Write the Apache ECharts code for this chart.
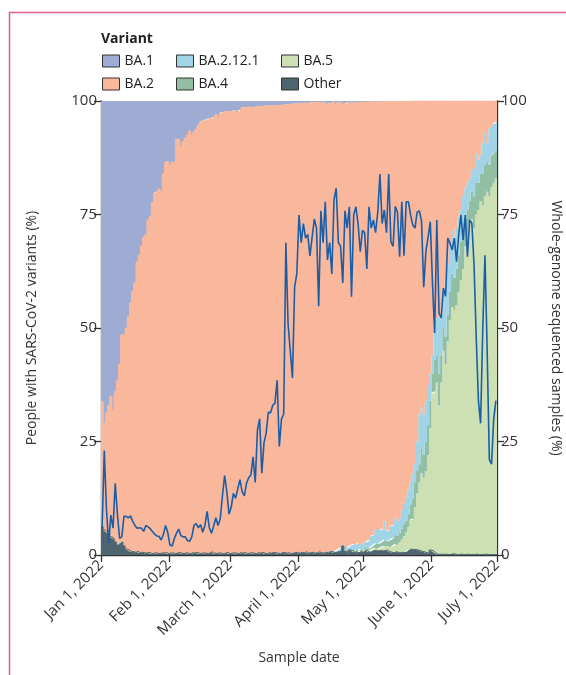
<!DOCTYPE html>
<html><head><meta charset="utf-8">
<script src="https://cdn.jsdelivr.net/npm/echarts@6/dist/echarts.min.js"></script>
<style>html,body{margin:0;padding:0;background:#fff}#c{width:566px;height:675px}</style>
</head><body><div id="c"></div>
<script>
// ---- data ----
const dayCount = 181; // Jan 1 .. Jun 30, 2022 (one value per sample day)
const tickDays = [0, 31, 59, 90, 120, 151, 181];
const tickLabels = ["Jan 1, 2022", "Feb 1, 2022", "March 1, 2022", "April 1, 2022", "May 1, 2022", "June 1, 2022", "July 1, 2022"];

const BA1 = [
66.2,71,68.7,67,65,68,64,61.5,58,51.5,
51.5,50,47.4,44.5,42,40,35.5,34,32,30,
29.5,26.2,25.5,22.3,20.3,20,19.4,20,16,13.5,
13.3,14.1,13.5,13.5,8.4,8.4,10,9,8.2,7.5,
6.6,7.5,6.8,6.2,5.3,4.6,4.4,4.2,4.0,3.8,
3.8,3.5,3.0,3.5,2.7,2.4,2.4,2.3,2.2,2.3,
2.2,2.0,2.4,2.0,1.4,1.5,1.4,1.3,1.4,1.4,
1.3,1.2,1.2,1.1,1.2,1.0,1.1,1.0,1.0,0.9,
1.0,0.9,1.0,0.8,0.9,0.7,0.8,0.6,0.7,0.5,
0.5,0.6,0.4,0.5,0.4,0.5,0.3,0.4,0.3,0.4,
0.3,0.5,0.3,0.6,0.4,0.5,0.3,0.6,0.4,0.3,
0.5,0.7,0.4,0.3,0.5,0.4,0.3,0.2,0.4,0.3,
0.2,0.3,0.2,0.2,0.1,0.3,0.2,0.1,0.2,0.1,
0.1,0.1,0.1,0.1,0.1,0.1,0.1,0.1,0.1,0.1,
0.1,0,0,0,0,0,0,0,0,0,
0,0,0,0,0,0,0,0,0,0,
0,0,0,0,0,0,0,0,0,0,
0,0,0,0,0,0,0,0,0,0,
0];

const BA2 = [
27.6,23.5,26.2,28.2,31.0,28.3,33.1,36.3,39.4,45.6,
46.5,48.7,51.5,54.7,57.3,59.4,63.7,65.5,67.4,69.5,
70.1,73.2,74.1,77.4,79.2,79.6,80.3,79.5,83.6,85.9,
86.4,85.5,86.0,86.2,91.2,91.0,89.6,90.7,91.3,92.1,
93.1,92.0,92.8,93.2,94.3,95.1,95.1,95.4,95.7,95.7,
95.5,96.1,96.7,96.0,96.9,97.3,97.2,97.1,97.5,97.3,
97.3,97.6,97.3,97.5,98.2,97.9,98.3,98.3,98.1,98.2,
98.4,98.3,98.4,98.3,98.4,98.7,98.4,98.6,98.4,98.6,
98.6,98.8,98.5,98.6,98.7,98.8,98.9,99.0,98.7,99.0,
99.1,98.8,99.1,98.8,99.2,99.0,99.1,99.2,99.2,98.9,
99.2,99.1,99.1,98.9,98.8,98.6,98.9,98.4,98.3,98.1,
97.0,97.5,98.0,97.7,97.3,97.2,97.4,97.2,97.1,97.5,
97.0,96.8,96.5,95.6,95.5,93.7,94.2,94.5,94.0,92.4,
94.6,94.4,93.5,93.3,91.6,92.4,91.9,89.9,88.5,87.0,
85.5,84.0,82.0,80.0,75.0,69.0,67.4,69.0,66.0,62.5,
60.0,56.0,49.0,48.0,47.5,47.0,42.0,39.0,36.0,32.0,
28.4,30.0,28.0,25.5,24.0,21.0,19.2,18.0,17.0,15.0,
15.0,11.5,13.0,12.0,9.3,7.0,9.3,6.0,5.5,5.0,
4.6];

const BA2121 = [
0,0,0,0,0,0,0,0,0,0, 0,0,0,0,0,0,0,0,0,0,
0,0,0,0,0,0,0,0,0,0, 0,0,0,0,0,0,0,0,0,0,
0,0,0,0,0,0,0,0,0,0, 0,0,0,0,0,0,0,0,0,0,
0,0,0,0,0,0,0,0,0,0, 0,0,0,0,0,0,0,0,0,0,
0,0,0,0,0,0,0,0,0,0, 0,0,0,0,0,0,0,0,0,0,
0,0,0,0,0,0.2,0.3,0.4,0.4,0.6,
0.4,0.7,0.7,0.6,0.9,1.4,1.2,1.6,1.2,1.1,
1.2,1.4,1.8,2.4,2.2,3.4,3.2,2.7,2.8,4.1,
2.3,2.3,3.0,2.8,3.9,3.3,3.2,4.2,4.6,5.3,
5.4,5.0,5.6,4.0,6.5,11.0,9.1,9.0,9.0,8.9,
6.0,4.0,8.0,8.0,12.5,9.0,8.0,13.0,11.0,10.0,
9.6,9.0,9.0,8.5,7.0,7.0,6.8,6.0,5.0,5.0,
6.0,6.5,5.0,4.0,6.7,7.0,4.2,8.0,6.5,6.5,
6.4];

const BA4 = [
0,0,0,0,0,0,0,0,0,0, 0,0,0,0,0,0,0,0,0,0,
0,0,0,0,0,0,0,0,0,0, 0,0,0,0,0,0,0,0,0,0,
0,0,0,0,0,0,0,0,0,0, 0,0,0,0,0,0,0,0,0,0,
0,0,0,0,0,0,0,0,0,0, 0,0,0,0,0,0,0,0,0,0,
0,0,0,0,0,0,0,0,0,0, 0,0,0,0,0,0,0,0,0,0,
0,0,0,0,0,0,0,0,0.1,0.1,
0.1,0.2,0.2,0.2,0.2,0.2,0.2,0.3,0.3,0.3,
0.3,0.3,0.5,0.6,0.7,1.0,1.0,1.1,1.2,1.4,
1.0,1.3,1.6,1.8,2.0,1.9,2.0,2.4,2.6,2.6,
2.8,3.3,4.4,5.5,4.9,4.0,5.5,5.0,6.5,6.6,
6.0,4.4,7.0,6.0,7.0,6.0,5.0,6.0,6.0,6.3,
7.4,7.0,8.0,8.0,8.5,9.0,6.0,6.0,5.0,6.0,
7.0,7.0,6.0,6.0,7.0,7.0,6.5,7.0,7.0,6.5,
6.0];

const BA5 = [
0,0,0,0,0,0,0,0,0,0, 0,0,0,0,0,0,0,0,0,0,
0,0,0,0,0,0,0,0,0,0, 0,0,0,0,0,0,0,0,0,0,
0,0,0,0,0,0,0,0,0,0, 0,0,0,0,0,0,0,0,0,0,
0,0,0,0,0,0,0,0,0,0, 0,0,0,0,0,0,0,0,0,0,
0,0,0,0,0,0,0,0,0,0, 0,0,0,0,0,0,0,0,0,0,
0,0,0,0,0,0,0,0,0,0,
0,0.1,0.1,0.1,0.1,0.2,0.2,0.2,0.2,0.2,
0.3,0.3,0.4,0.4,0.5,0.6,0.5,0.6,0.9,1.0,
0.9,1.1,1.2,1.5,1.7,1.7,2.3,2.8,3.7,4.3,
5.1,6.4,6.8,9.3,12.5,15.0,17.2,16.3,18.0,21.6,
26.9,34.7,35.5,37.8,32.9,37.8,44.9,41.8,46.9,51.6,
54.3,53.8,54.9,57.9,60.3,62.9,67.9,69.8,72.9,73.9,
71.9,74.8,75.9,77.9,76.9,78.8,79.9,78.9,80.9,81.9,
82.9];

const Other = [
6.2,5.5,5.1,4.8,4.0,3.7,2.9,2.2,2.6,2.9,
2.0,1.3,1.1,0.8,0.7,0.6,0.8,0.5,0.6,0.5,
0.4,0.6,0.4,0.3,0.5,0.4,0.3,0.5,0.4,0.6,
0.3,0.4,0.5,0.3,0.4,0.6,0.4,0.3,0.5,0.4,
0.3,0.5,0.4,0.6,0.4,0.3,0.5,0.4,0.3,0.5,
0.7,0.4,0.3,0.5,0.4,0.3,0.4,0.6,0.3,0.4,
0.5,0.4,0.3,0.5,0.4,0.6,0.3,0.4,0.5,0.4,
0.3,0.5,0.4,0.6,0.4,0.3,0.5,0.4,0.6,0.5,
0.4,0.3,0.5,0.6,0.4,0.5,0.3,0.4,0.6,0.5,
0.4,0.6,0.5,0.7,0.4,0.5,0.6,0.4,0.5,0.7,
0.5,0.4,0.6,0.5,0.8,0.7,0.5,0.6,0.8,0.9,
2.0,0.8,0.6,1.1,1.0,0.6,0.7,0.5,0.8,0.6,
1.0,0.9,0.6,0.8,1.0,1.0,0.9,1.0,0.9,1.0,
1.1,0.8,0.6,0.5,0.7,0.6,0.5,0.6,0.5,0.7,
1.1,1.3,1.2,1.2,1.1,1.0,0.8,0.7,0.5,0.4,
1.1,0.9,0.5,0.2,0.1,0.2,0.1,0.2,0.1,0.1,
0.3,0.2,0.1,0.1,0.2,0.1,0.1,0.2,0.1,0.1,
0.1,0.2,0.1,0.1,0.1,0.2,0.1,0.1,0.1,0.1,
0.1];

const sequenced = [
6,23,10,2.7,8.8,5.9,15.8,9,3.7,4,
8.5,8.5,8.2,8.6,7.4,6.5,5.9,6,5.9,5.2,
6.5,6.2,5.8,5.2,4.6,4.2,4.1,3.3,4.5,6.5,
5,2.2,2,3.6,4.8,5.7,4.3,4,4,3.2,
3,4,6.5,6.9,6,6.7,5,6.5,9.6,6,
4.8,6.4,8.2,6.5,8,13,17.5,14,9,10.5,
13.6,12.5,14.5,16.6,14,13,15.8,17,17.6,21.6,
16,27.5,30,18,24.7,26.9,31.5,31.3,33,33.4,
38.5,23.9,30,31,68.8,51,45,39,59,62,
74.9,68.8,73,69.8,70.6,65.9,70,74,72,54.8,
75.8,68.8,77.8,65,68.8,61.9,78.2,80.8,68.8,68,
59.9,75.8,72,76.7,56.9,74.9,76.7,73,66.8,71.5,
71,63,76.7,72,73.8,71,75.5,83.9,73,76,
71,83.9,69,68,76.8,75.5,65.7,77.8,65.9,77.8,
77.8,74.9,72.7,72,75.5,75.8,73.6,59,66.8,70,
73.4,60,48.9,73.8,53.3,52.2,58.8,57,69.8,68.7,
67.2,69.8,64.6,70.5,74.9,69.4,74.9,65.7,73.8,73.1,
64,48,34,29,50,66,45,21,20,30,
34];

// ---- build ----
const FONT = '"Open Sans", "DejaVu Sans", sans-serif';
// category axis: day boundaries Jan 1 (0) ... July 1 (181)
const categories = [];
for (let i = 0; i <= dayCount; i++) {
  const d = new Date(Date.UTC(2022, 0, 1 + i));
  categories.push(d.toISOString().slice(0, 10));
}
// edge: draw a hairline along the top of layers that are never empty (hides AA seams)
const variants = [
  { name: 'Other', data: Other, color: '#4e646e', edge: 1 },
  { name: 'BA.5', data: BA5, color: '#cce0b4', edge: 0 },
  { name: 'BA.4', data: BA4, color: '#92bea4', edge: 0 },
  { name: 'BA.2.12.1', data: BA2121, color: '#a0d4e6', edge: 0 },
  { name: 'BA.2', data: BA2, color: '#f9b79c', edge: 1 },
  { name: 'BA.1', data: BA1, color: '#9eacd4', edge: 0 }
];
// each day's share holds over [day, day+1): step area with closing boundary point
const withClose = arr => arr.concat([arr[arr.length - 1]]);
const series = variants.map(v => ({
  name: v.name, type: 'line', stack: 'variants', step: 'end',
  xAxisIndex: 0, yAxisIndex: 0,
  data: withClose(v.data), symbol: 'none', showSymbol: false,
  itemStyle: { color: v.color },
  lineStyle: { width: v.edge, color: v.color },
  areaStyle: { color: v.color, opacity: 1 },
  emphasis: { disabled: true }, z: 2
}));
series.push({
  name: 'Whole-genome sequenced', type: 'line', xAxisIndex: 1, yAxisIndex: 1,
  data: sequenced.map((v, i) => [i + 0.5, v]), symbol: 'none', showSymbol: false,
  lineStyle: { color: '#1b5ea8', width: 1.6 }, itemStyle: { color: '#1b5ea8' }, z: 5
});

const legendBase = {
  orient: 'vertical', top: 54, itemWidth: 17, itemHeight: 12, itemGap: 9, padding: 0,
  icon: 'rect', selectedMode: false,
  itemStyle: { borderColor: '#333', borderWidth: 1 },
  textStyle: { fontSize: 14, color: '#222', fontFamily: FONT }
};
const axisText = { color: '#333', fontSize: 15, fontFamily: FONT };
const axisLine = { show: true, lineStyle: { color: '#333', width: 1.3 } };
const axisTick = { show: true, length: 7, lineStyle: { color: '#333', width: 1.3 } };
const isTick = idx => tickDays.indexOf(idx) >= 0;

const option = {
  animation: false,
  backgroundColor: '#fff',
  textStyle: { fontFamily: FONT },
  grid: { left: 101, right: 69, top: 101, bottom: 120, containLabel: false, outerBoundsMode: 'none' },
  legend: [
    Object.assign({}, legendBase, { left: 102, data: ['BA.1', 'BA.2'] }),
    Object.assign({}, legendBase, { left: 176, data: ['BA.2.12.1', 'BA.4'] }),
    Object.assign({}, legendBase, { left: 281, data: ['BA.5', 'Other'] })
  ],
  graphic: [
    { type: 'polyline', silent: true, shape: { points: [[9.5, 675], [9.5, 12.5], [566, 12.5]] },
      style: { stroke: '#d6628a', lineWidth: 1.5, fill: null } },
    { type: 'text', left: 101, top: 32, silent: true,
      style: { text: 'Variant', font: 'bold 14px ' + FONT, fill: '#222' } }
  ],
  xAxis: [
    { type: 'category', data: categories, boundaryGap: false, position: 'bottom',
      axisLine: axisLine,
      axisTick: Object.assign({}, axisTick, { interval: isTick }),
      axisLabel: Object.assign({}, axisText, { interval: isTick, rotate: 45, margin: 8,
        formatter: (val, idx) => tickLabels[tickDays.indexOf(idx)] }),
      splitLine: { show: false },
      name: 'Sample date', nameLocation: 'middle', nameGap: 96,
      nameTextStyle: { fontSize: 14, color: '#333', fontFamily: FONT } },
    { type: 'value', min: 0, max: dayCount, show: false }
  ],
  yAxis: [
    { type: 'value', min: 0, max: 100, interval: 25, position: 'left',
      axisLine: axisLine, axisTick: axisTick,
      axisLabel: Object.assign({}, axisText, { margin: 4 }),
      splitLine: { show: false },
      name: 'People with SARS-CoV-2 variants (%)', nameLocation: 'middle', nameGap: 62, nameRotate: 90,
      nameTextStyle: { fontSize: 14, color: '#333', fontFamily: FONT } },
    { type: 'value', min: 0, max: 100, interval: 25, position: 'right',
      axisLine: axisLine, axisTick: axisTick,
      axisLabel: Object.assign({}, axisText, { margin: 4 }),
      splitLine: { show: false },
      name: 'Whole-genome sequenced samples (%)', nameLocation: 'middle', nameGap: 52, nameRotate: -90,
      nameTextStyle: { fontSize: 14, color: '#333', fontFamily: FONT } }
  ],
  series: series
};
const chart = echarts.init(document.getElementById('c'), null, { renderer: 'canvas' });
chart.setOption(option);
</script>
</body></html>
